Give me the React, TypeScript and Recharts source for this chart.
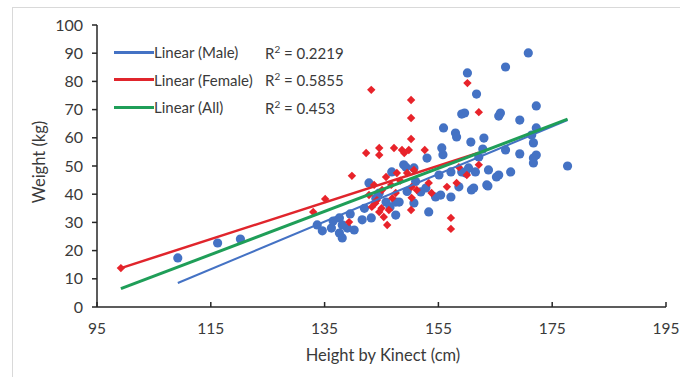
import { ComposedChart, Scatter, XAxis, YAxis } from "recharts";

const X_TICKS = [95, 115, 135, 155, 175, 195];
const Y_TICKS = [0, 10, 20, 30, 40, 50, 60, 70, 80, 90, 100];

// [height, weight]
const MALE: [number, number][] = [
  [109.2, 17.4], [116.2, 22.7], [120.2, 24.1], [133.7, 29.1], [134.6, 27.0],
  [136.2, 28.0], [137.6, 26.2], [138.1, 24.5], [139.0, 28.0], [138.1, 29.1],
  [137.6, 31.6], [140.2, 27.3], [141.6, 30.9], [143.2, 31.6], [142.8, 44.0],
  [144.6, 40.4], [145.8, 37.2], [147.5, 37.2], [147.5, 32.6], [148.1, 37.2],
  [148.9, 50.4], [146.8, 47.9], [149.3, 49.6], [150.7, 49.3], [150.7, 36.9],
  [153.3, 33.7], [151.9, 40.8], [152.8, 42.2], [154.5, 39.0], [155.4, 39.7],
  [157.2, 39.0], [153.0, 52.8], [155.8, 54.0], [155.1, 46.8], [157.2, 47.9],
  [159.8, 47.5], [161.5, 47.9], [163.8, 48.6], [158.6, 42.6], [160.8, 41.5],
  [163.5, 43.3], [165.6, 46.8], [161.2, 42.2], [163.7, 42.9], [155.6, 56.4],
  [155.9, 63.5], [158.0, 61.7], [158.2, 60.3], [160.7, 58.5], [163.0, 59.9],
  [162.8, 56.0], [162.1, 53.2], [160.1, 83.0], [161.7, 75.5], [159.6, 68.8],
  [159.1, 68.4], [165.9, 68.8], [165.6, 67.7], [166.8, 85.1], [170.8, 90.1],
  [172.2, 71.3], [169.3, 66.3], [172.2, 63.5], [171.4, 61.0], [171.7, 58.2],
  [166.8, 55.7], [169.3, 54.3], [172.2, 53.9], [171.7, 52.8], [171.7, 51.1],
  [177.7, 50.0], [167.7, 47.9], [165.2, 46.1], [159.1, 47.9], [160.3, 49.3],
  [139.5, 33.0], [142.0, 35.0], [144.0, 38.5], [146.5, 35.5], [149.5, 41.0],
  [151.0, 44.5], [136.5, 30.5],
];

const FEMALE: [number, number][] = [
  [99.2, 13.8], [133.0, 33.7], [135.1, 38.3], [139.8, 46.5], [142.3, 54.6],
  [144.6, 53.9], [144.6, 56.4], [143.2, 77.0], [147.2, 56.4], [150.2, 73.4],
  [150.2, 67.0], [150.2, 59.6], [148.6, 55.7], [149.8, 55.7], [152.6, 55.7],
  [149.0, 54.6], [160.1, 79.4], [162.1, 69.1], [147.5, 40.4], [145.8, 46.1],
  [147.7, 47.5], [143.3, 35.5], [144.6, 33.7], [146.3, 34.4], [145.4, 31.9],
  [139.3, 30.1], [146.0, 29.1], [144.2, 37.9], [156.5, 42.6], [158.2, 44.0],
  [162.1, 50.4], [160.0, 46.8], [158.6, 49.6], [153.3, 44.0], [153.8, 40.4],
  [150.3, 42.6], [150.3, 38.7], [150.2, 34.4], [151.2, 41.5], [157.2, 31.6],
  [157.2, 27.7], [149.5, 47.5], [150.7, 48.6], [143.7, 43.3], [146.7, 43.3],
  [145.1, 41.5], [142.8, 39.7], [143.9, 36.8], [145.0, 35.0], [146.9, 38.6],
  [148.3, 44.8],
];

// trendline end points
const TREND_MALE: [number, number][] = [[109.2, 8.5], [177.7, 66.3]];
const TREND_FEMALE: [number, number][] = [[99.2, 13.8], [162.1, 54.7]];
const TREND_ALL: [number, number][] = [[99.2, 6.5], [177.7, 66.6]];

const LEGEND = [
  { label: "Linear (Male)", r2: "0.2219", color: "#4472c4" },
  { label: "Linear (Female)", r2: "0.5855", color: "#e0252c" },
  { label: "Linear (All)", r2: "0.453", color: "#1f9e58" },
];

const FONT = "Lato, 'Open Sans', sans-serif";
const TEXT = "#3a3a3a";
const AXIS = "#262626";

const toPts = (arr: [number, number][]) => arr.map(([x, y]) => ({ x, y }));

function Dot(props: any) {
  const { cx, cy } = props;
  return <circle cx={cx} cy={cy} r={4.6} fill="#4472c4" />;
}

function Diamond(props: any) {
  const { cx, cy } = props;
  const s = 4.2;
  return <path d={`M${cx},${cy - s}L${cx + s},${cy}L${cx},${cy + s}L${cx - s},${cy}Z`} fill="#e8232a" />;
}

const NoShape = () => <g />;

function XTick(props: any) {
  const { x, y, payload } = props;
  return (
    <g>
      <line x1={x} x2={x} y1={y} y2={y - 5} stroke={AXIS} strokeWidth={1.5} />
      <text x={x} y={y + 27} textAnchor="middle" fill={TEXT} fontSize={15.5} fontFamily={FONT}>
        {payload.value}
      </text>
    </g>
  );
}

export default function App() {
  return (
    <div style={{ position: "fixed", left: 0, top: 0, width: 680, height: 377, overflow: "hidden", background: "#fff" }}>
      <div style={{ position: "absolute", left: 12, top: 7, width: 720, height: 420, border: "1px solid #d9d9d9" }} />
      <div style={{ position: "absolute", left: 0, top: 0 }}>
        <ComposedChart width={680} height={377} margin={{ top: 25, right: 14, bottom: 0, left: 0 }}>
          <XAxis
            type="number"
            dataKey="x"
            domain={[95, 195]}
            ticks={X_TICKS}
            interval={0}
            height={70}
            tickSize={0}
            tickMargin={0}
            tickLine={false}
            axisLine={{ stroke: AXIS, strokeWidth: 1.5 }}
            tick={<XTick />}
            label={{
              content: () => (
                <text x={383} y={361} textAnchor="middle" fill={TEXT} fontSize={16.5} fontFamily={FONT}>
                  Height by Kinect (cm)
                </text>
              ),
            }}
          />
          <YAxis
            type="number"
            dataKey="y"
            domain={[0, 100]}
            ticks={Y_TICKS}
            interval={0}
            width={97}
            tickSize={5}
            tickMargin={9}
            tickLine={{ stroke: AXIS, strokeWidth: 1.5 }}
            axisLine={{ stroke: AXIS, strokeWidth: 1.5 }}
            tick={{ fill: TEXT, fontSize: 16, fontFamily: FONT }}
            label={{
              content: () => (
                <text
                  x={45}
                  y={162}
                  transform="rotate(-90 45 162)"
                  textAnchor="middle"
                  fill={TEXT}
                  fontSize={16.5}
                  fontFamily={FONT}
                >
                  Weight (kg)
                </text>
              ),
            }}
          />
          <Scatter data={toPts(MALE)} shape={<Dot />} isAnimationActive={false} />
          <Scatter data={toPts(FEMALE)} shape={<Diamond />} isAnimationActive={false} />
          <Scatter
            data={toPts(TREND_MALE)}
            shape={NoShape}
            line={{ stroke: "#4472c4", strokeWidth: 2 }}
            isAnimationActive={false}
          />
          <Scatter
            data={toPts(TREND_FEMALE)}
            shape={NoShape}
            line={{ stroke: "#e0252c", strokeWidth: 2.5 }}
            isAnimationActive={false}
          />
          <Scatter
            data={toPts(TREND_ALL)}
            shape={NoShape}
            line={{ stroke: "#1f9e58", strokeWidth: 3 }}
            isAnimationActive={false}
          />
        </ComposedChart>
      </div>
      {/* legend + R² labels */}
      {LEGEND.map((item, i) => (
        <div
          key={item.label}
          style={{
            position: "absolute",
            left: 114,
            top: 42 + i * 27.5,
            height: 20,
            display: "flex",
            alignItems: "center",
            fontFamily: FONT,
            fontSize: 15,
            color: TEXT,
            whiteSpace: "nowrap",
          }}
        >
          <span style={{ width: 40, height: 3, background: item.color, display: "inline-block" }} />
          <span style={{ width: 111 }}>{item.label}</span>
          <span>
            R<sup style={{ fontSize: 10 }}>2</sup> = {item.r2}
          </span>
        </div>
      ))}
    </div>
  );
}
